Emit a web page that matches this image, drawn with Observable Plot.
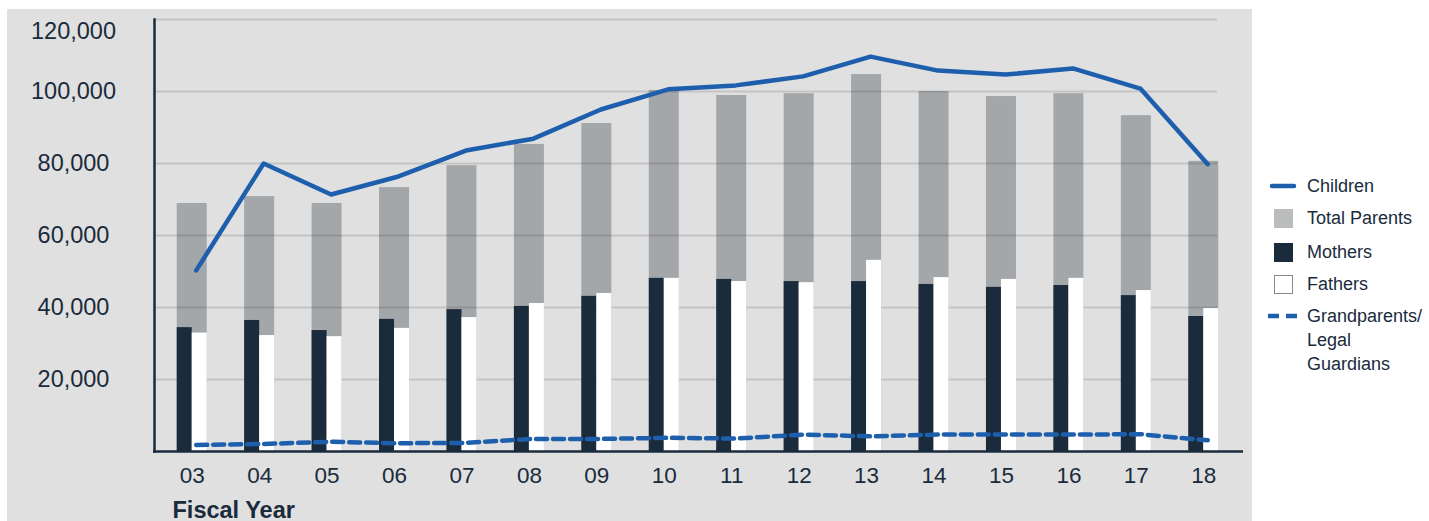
<!DOCTYPE html>
<html>
<head>
<meta charset="utf-8">
<script src="https://cdn.jsdelivr.net/npm/d3@7"></script>
<script src="https://cdn.jsdelivr.net/npm/@observablehq/plot@0.6"></script>
<style>
  html, body { margin: 0; padding: 0; background: #fff; }
  body { width: 1429px; height: 521px; position: relative; overflow: hidden; font-family: "Liberation Sans", Arial, sans-serif; color: #1a2b3c; }
  #panel { position: absolute; left: 7px; top: 9px; width: 1245px; height: 512px; background: #e0e0e0; }
  #panel svg { display: block; }
  .leg { position: absolute; left: 1266px; display: flex; align-items: flex-start; font-size: 18px; line-height: 24px; color: #1a2b3c; }
  .sw { width: 34px; height: 24px; position: relative; margin-right: 7px; flex: none; }
  .sw .sq { position: absolute; left: 8px; top: 2.5px; width: 19px; height: 19px; box-sizing: border-box; }
  .sw svg { position: absolute; left: 0; top: 0; }
</style>
</head>
<body>
<div id="panel"></div>
<div id="legend"></div>
<script>
const years = ["03","04","05","06","07","08","09","10","11","12","13","14","15","16","17","18"];
const children = [50300, 80000, 71400, 76400, 83600, 86900, 95000, 100600, 101700, 104200, 109700, 105800, 104700, 106400, 100800, 79800];
const totalParents = [68900, 70800, 68900, 73300, 79400, 85300, 91100, 100300, 98900, 99400, 104700, 100000, 98600, 99400, 93300, 80600];
const mothers = [34400, 36400, 33600, 36700, 39400, 40300, 43100, 48100, 47800, 47200, 47200, 46400, 45600, 46100, 43300, 37500];
const fathers = [32900, 32200, 31900, 34200, 37200, 41100, 43900, 48100, 47200, 46900, 53100, 48300, 47800, 48100, 44700, 39700];
const grandparents = [1800, 2100, 2700, 2300, 2400, 3500, 3500, 3800, 3600, 4700, 4200, 4700, 4700, 4700, 4800, 3100];
const yTicks = [20000, 40000, 60000, 80000, 100000, 120000];
const legendLabels = ["Children", "Total Parents", "Mothers", "Fathers", "Grandparents/<br>Legal<br>Guardians"];

const data = years.map((year, i) => ({
  year, children: children[i], total: totalParents[i], mothers: mothers[i],
  fathers: fathers[i], grand: grandparents[i]
}));

const ink = "#1a2b3c";
const blue = "#1e5fad";
const fmt = d3.format(",");

const chart = Plot.plot({
  width: 1245,
  height: 512,
  marginTop: 10,
  marginBottom: 70,
  marginLeft: 151,
  marginRight: 15,
  style: { background: "transparent", fontFamily: "'Liberation Sans', Arial, sans-serif", color: ink },
  x: { domain: years, paddingInner: 0.555, paddingOuter: 0.2775, round: false, label: null },
  y: { domain: [0, 120000], label: null },
  marks: [
    Plot.barY(data, { x: "year", y: "total", fill: "#a4a7aa" }),
    Plot.ruleY(yTicks, { stroke: "#000", strokeOpacity: 0.12, strokeWidth: 2, insetLeft: -4, insetRight: 20 }),
    Plot.barY(data, { x: "year", y: "mothers", fill: ink, insetRight: 15 }),
    Plot.barY(data, { x: "year", y: "fathers", fill: "#ffffff", insetLeft: 15 }),
    Plot.line(data, { x: "year", y: "children", stroke: blue, strokeWidth: 4.5, dx: 4 }),
    Plot.line(data, { x: "year", y: "grand", stroke: blue, strokeWidth: 4.5, strokeDasharray: "11,6", dx: 4 }),
    Plot.ruleY([0], { stroke: ink, strokeWidth: 2.5, insetLeft: -5, insetRight: -6 }),
    Plot.frame({ anchor: "left", stroke: ink, strokeWidth: 2.5, dx: -4 }),
    Plot.axisY({ ticks: yTicks.filter(d => d < 120000), tickSize: 0, tickPadding: 85, textAnchor: "middle", fontSize: 23.5, tickFormat: fmt, label: null, fill: ink }),
    Plot.axisY({ ticks: [120000], tickSize: 0, tickPadding: 85, textAnchor: "middle", fontSize: 23.5, tickFormat: fmt, label: null, fill: ink, dy: 12 }),
    Plot.axisX({ tickSize: 0, tickPadding: 16, fontSize: 22.5, label: null, fill: ink }),
    Plot.text(["Fiscal Year"], { frameAnchor: "bottom-left", dx: 14, dy: 66, lineAnchor: "bottom", textAnchor: "start", fontWeight: "bold", fontSize: 23.5, fill: ink })
  ]
});
document.getElementById("panel").appendChild(chart);

// Legend
const legend = document.getElementById("legend");
const legendTops = [174, 206, 240, 272, 304];
const swatches = [
  `<svg width="34" height="24"><line x1="6" x2="28" y1="12" y2="12" stroke="${blue}" stroke-width="4.5" stroke-linecap="round"/></svg>`,
  `<div class="sq" style="background:#babcbe"></div>`,
  `<div class="sq" style="background:${ink}"></div>`,
  `<div class="sq" style="background:#fff;border:1px solid #8a8a8a"></div>`,
  `<svg width="34" height="24"><line x1="2" x2="32" y1="12" y2="12" stroke="${blue}" stroke-width="4.5" stroke-dasharray="11,7"/></svg>`
];
legendLabels.forEach((lab, i) => {
  const row = document.createElement("div");
  row.className = "leg";
  row.style.top = legendTops[i] + "px";
  row.innerHTML = `<div class="sw">${swatches[i]}</div><div>${lab}</div>`;
  legend.appendChild(row);
});
</script>
</body>
</html>
